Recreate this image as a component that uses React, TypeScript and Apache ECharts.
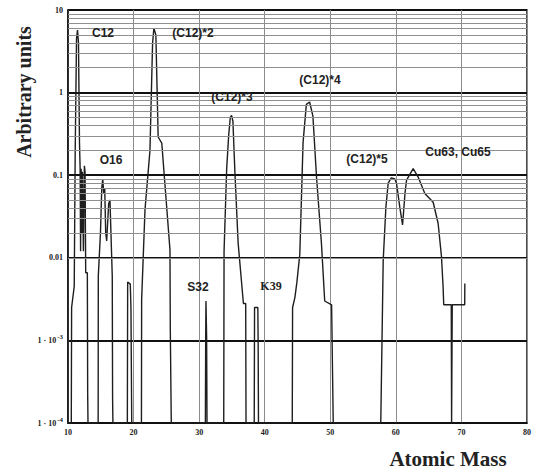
import React, { useEffect, useRef } from "react";
import * as echarts from "echarts";

// [atomic mass, intensity (arbitrary units)], group by group
const leadIn: [number, number][] = [[10, 1e-4], [10.5, 1e-4]];
const c12Peak: [number, number][] = [
  [10.55, 0.0025], [10.95, 0.0045], [11.1, 0.2], [11.3, 4.5], [11.45, 5.7], [11.6, 4.0],
  [11.75, 0.25], [11.85, 0.12], [11.92, 0.012], [12.0, 0.12], [12.1, 0.02], [12.2, 0.11],
  [12.35, 0.012], [12.5, 0.13], [12.6, 0.11], [12.7, 0.0066], [12.95, 0.0066], [13.0, 2.3e-4], [13.05, 1e-4],
];
const o16Peak: [number, number][] = [
  [14.6, 1e-4], [14.62, 0.006], [14.95, 0.02], [15.15, 0.07], [15.3, 0.09], [15.45, 0.06],
  [15.6, 0.07], [15.75, 0.02], [15.9, 0.016], [16.2, 0.045], [16.4, 0.05], [16.55, 0.02],
  [16.75, 0.006], [16.8, 2e-4], [16.85, 1e-4],
];
const m19Peak: [number, number][] = [
  [19.05, 1e-4], [19.1, 0.0051], [19.5, 0.0048], [19.6, 0.0025], [19.7, 0.0025], [19.72, 1e-4],
];
const c12x2Peak: [number, number][] = [
  [21.2, 1e-4], [21.23, 0.0031], [21.74, 0.038], [22.5, 0.2], [22.9, 4.0], [23.1, 6.0],
  [23.4, 5.0], [23.75, 0.29], [24.3, 0.245], [25.55, 0.0125], [25.6, 0.0014], [25.75, 1e-4],
];
const s32Peak: [number, number][] = [
  [30.95, 1e-4], [31.0, 0.0011], [31.04, 0.003], [31.1, 0.003], [31.14, 0.0011], [31.2, 1e-4],
];
const c12x3Peak: [number, number][] = [
  [33.75, 1e-4], [33.8, 0.012], [34.2, 0.12], [34.5, 0.3], [34.75, 0.5], [34.95, 0.53],
  [35.15, 0.45], [35.45, 0.11], [35.95, 0.015], [36.75, 0.0028], [37.1, 0.0028], [37.15, 1e-4],
];
const k39Peak: [number, number][] = [
  [38.4, 1e-4], [38.45, 0.0025], [38.95, 0.0025], [39.0, 0.0009], [39.05, 1e-4],
];
const c12x4Peak: [number, number][] = [
  [44.2, 1e-4], [44.25, 0.0025], [44.6, 0.0033], [44.9, 0.005], [45.35, 0.011], [45.85, 0.25],
  [46.35, 0.72], [46.85, 0.77], [47.35, 0.52], [47.9, 0.095], [48.65, 0.015], [49.15, 0.003],
  [50.2, 0.0027], [50.45, 1e-4],
];
const cuPeak: [number, number][] = [
  [57.7, 1e-4], [58.07, 0.0093], [58.48, 0.041], [58.83, 0.08], [59.3, 0.093], [59.85, 0.09],
  [60.1, 0.08], [60.6, 0.041], [61.02, 0.025], [61.4, 0.061], [61.63, 0.087], [62.64, 0.12],
  [63.4, 0.095], [64.42, 0.06], [65.69, 0.047], [66.45, 0.026], [66.96, 0.0103], [67.2, 0.0045],
  [67.3, 0.0027], [68.45, 0.0027], [68.5, 1e-4], [68.6, 0.0027], [70.5, 0.0027], [70.52, 0.0049],
];

const spectrum = [
  ...leadIn, ...c12Peak, ...o16Peak, ...m19Peak, ...c12x2Peak, ...s32Peak,
  ...c12x3Peak, ...k39Peak, ...c12x4Peak, ...cuPeak,
];

const decades = [1e-4, 1e-3, 1e-2, 1e-1, 1];
const minorSteps = [2, 3, 4, 5, 6, 7, 8, 9];
const minorGridValues = decades.flatMap((d) => minorSteps.map((m) => m * d));

const yLabelByExponent: Record<string, string> = {
  "1": "10", "0": "1", "-1": "0.1", "-2": "0.01", "-3": "1 · 10{s|-3}", "-4": "1 · 10{s|-4}",
};

const peakLabels = [
  { text: "C12", x: 103, y: 33 },
  { text: "(C12)*2", x: 193, y: 33 },
  { text: "(C12)*3", x: 232, y: 97 },
  { text: "(C12)*4", x: 320, y: 80 },
  { text: "(C12)*5", x: 367, y: 159 },
  { text: "Cu63, Cu65", x: 458, y: 152 },
  { text: "O16", x: 111, y: 160 },
  { text: "S32", x: 198, y: 287 },
  { text: "K39", x: 271, y: 286, serif: true },
];

export default function App() {
  const ref = useRef<HTMLDivElement>(null);
  useEffect(() => {
    if (!ref.current) return;
    const chart = echarts.init(ref.current, undefined, { renderer: "svg" });
    chart.setOption({
      animation: false,
      backgroundColor: "#fff",
      grid: { left: 68, right: 7, top: 10, bottom: 48, show: true, borderColor: "#111", borderWidth: 1.5 },
      xAxis: {
        type: "value",
        min: 10,
        max: 80,
        interval: 10,
        axisLine: { show: true, lineStyle: { color: "#111", width: 1.5 } },
        axisTick: { show: false },
        axisLabel: {
          fontFamily: "Liberation Serif", fontWeight: "bold", fontSize: 8, color: "#222", margin: 5,
        },
        splitLine: { show: true, lineStyle: { color: "#8c8c8c", width: 1 } },
      },
      yAxis: {
        type: "log",
        logBase: 10,
        min: 1e-4,
        max: 10,
        splitNumber: 5,
        axisLine: { show: true, lineStyle: { color: "#111", width: 1.5 } },
        axisTick: { show: false },
        axisLabel: {
          fontFamily: "Liberation Serif", fontWeight: "bold", fontSize: 8, color: "#222",
          margin: 5,
          formatter: (v: number) => yLabelByExponent[String(Math.round(Math.log10(v)))] ?? "",
          rich: {
            s: { fontFamily: "Liberation Serif", fontWeight: "bold", fontSize: 7, color: "#222", padding: [0, 0, 6, 1] },
          },
        },
        splitLine: { show: true, lineStyle: { color: "#111", width: 1.8 } },
      },
      series: [
        {
          type: "line",
          data: [[10, 1e-4]],
          showSymbol: false,
          lineStyle: { opacity: 0 },
          silent: true,
          z: 1,
          markLine: {
            silent: true,
            symbol: ["none", "none"],
            label: { show: false },
            lineStyle: { color: "#8f8f8f", width: 1, type: "solid" },
            data: minorGridValues.map((v) => ({ yAxis: v })),
          },
        },
        {
          type: "line",
          data: spectrum,
          showSymbol: false,
          z: 3,
          lineStyle: { color: "#1e1e1e", width: 1.4 },
        },
      ],
      graphic: [
        ...peakLabels.map((p) => ({
          type: "text",
          x: p.x,
          y: p.y,
          z: 10,
          style: {
            text: p.text,
            fill: "#222",
            font: p.serif ? "bold 12px 'Liberation Serif'" : "bold 12px 'Liberation Sans'",
            textAlign: "center",
            textVerticalAlign: "middle",
          },
        })),
        {
          type: "text",
          x: 24,
          y: 92,
          rotation: Math.PI / 2,
          style: {
            text: "Arbitrary units",
            fill: "#222",
            font: "bold 20px 'Liberation Serif'",
            textAlign: "center",
            textVerticalAlign: "middle",
          },
        },
        {
          type: "text",
          x: 448,
          y: 459,
          style: {
            text: "Atomic Mass",
            fill: "#222",
            font: "bold 21px 'Liberation Serif'",
            textAlign: "center",
            textVerticalAlign: "middle",
          },
        },
      ],
    });
    return () => chart.dispose();
  }, []);
  return <div ref={ref} style={{ position: "fixed", left: 0, top: 0, width: 534, height: 471 }} />;
}
